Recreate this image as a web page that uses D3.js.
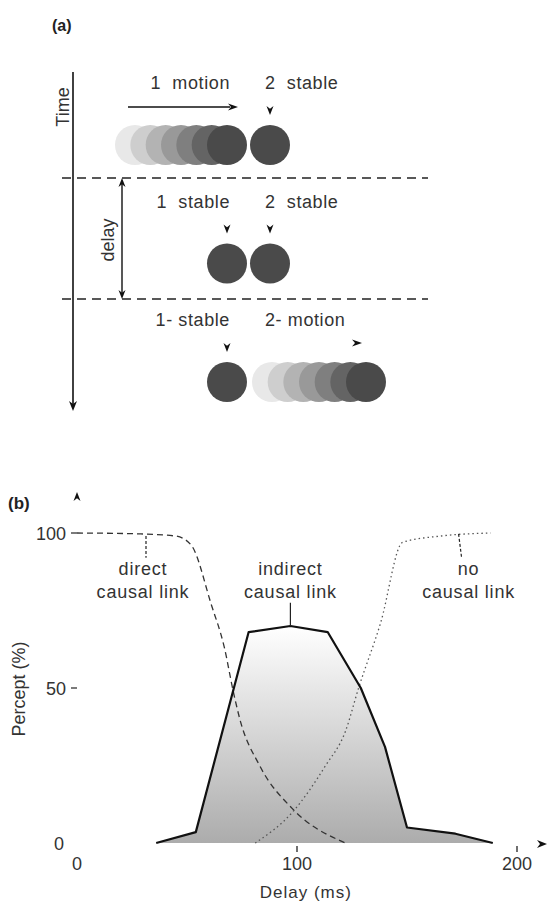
<!DOCTYPE html>
<html>
<head>
<meta charset="utf-8">
<style>
  body { margin: 0; background: #fff; }
  svg text { font-family: "Liberation Sans", Arial, sans-serif; fill: #333; white-space: pre; }
</style>
</head>
<body>
<svg width="549" height="901"></svg>
<script src="https://cdn.jsdelivr.net/npm/d3@7"></script>
<script>

// ---- panel (a): the three stimulus rows ----
var rowLabels1 = ["1  motion", "1  stable", "1- stable"];
var rowLabels2 = ["2  stable", "2  stable", "2- motion"];
var object1State = ["motion", "stable", "stable"];
var object2State = ["stable", "stable", "motion"];
var motionFrames = [0, 1, 2, 3, 4, 5, 6];

// ---- panel (b): percept vs delay ----
var delayTicks = [0, 100, 200];
var percentTicks = [0, 50, 100];

var indirectDelay = [36, 54, 78, 97, 114, 129, 140, 150, 172, 189];
var indirectPct   = [0, 3.5, 68, 70, 68, 50, 31, 5, 3, 0];

var directDelay = [0, 29, 45, 52, 61, 67, 71, 74, 83, 98, 122];
var directPct   = [100, 99.7, 99, 96, 77, 63, 49, 40, 25, 11, 0];

var noLinkDelay = [81, 98, 113, 122, 128, 138, 148, 165, 188];
var noLinkPct   = [0, 10, 25, 36, 50, 71, 97, 99, 100];

var svg = d3.select("svg");

// arrow head with a notch, tip at (x,y), pointing along angle (deg)
function arrowHead(x, y, angle, len, half) {
  var p = d3.path();
  p.moveTo(0, 0);
  p.lineTo(-len, -half);
  p.lineTo(-len * 0.7, 0);
  p.lineTo(-len, half);
  p.closePath();
  return svg.append("path")
    .attr("d", p.toString())
    .attr("fill", "#111")
    .attr("transform", "translate(" + x + "," + y + ") rotate(" + angle + ")");
}

// ================= panel (a) =================
var rowY = d3.scalePoint().domain([0, 1, 2]).range([145, 382]);
var stableX = [227, 270];
var r = 20;
var motionX1 = d3.scaleLinear().domain([0, 6]).range([135, 227]);
var motionX2 = d3.scaleLinear().domain([0, 6]).range([272, 366]);
var frameColor = d3.scaleLinear().domain([0, 6]).range(["#e8e8e8", "#4a4a4a"]);

svg.append("text").attr("x", 52).attr("y", 31)
  .style("font-size", "16px").style("font-weight", "bold").style("fill", "#222")
  .text("(a)");

// time axis
svg.append("line").attr("x1", 73).attr("x2", 73).attr("y1", 72).attr("y2", 404)
  .attr("stroke", "#111").attr("stroke-width", 1.6);
arrowHead(73, 411, 90, 10, 4);
svg.append("text").attr("transform", "translate(68.5,107) rotate(-90)")
  .attr("text-anchor", "middle").style("font-size", "18px").text("Time");

// separators between the rows
var sepY = [178, 299];
svg.selectAll(".sep").data(sepY).enter().append("line")
  .attr("class", "sep")
  .attr("x1", 62).attr("x2", 428)
  .attr("y1", function(d) { return d; }).attr("y2", function(d) { return d; })
  .attr("stroke", "#222").attr("stroke-width", 1.5)
  .attr("stroke-dasharray", "9,6");

// delay double arrow
svg.append("line").attr("x1", 122).attr("x2", 122).attr("y1", sepY[0] + 6).attr("y2", sepY[1] - 6)
  .attr("stroke", "#111").attr("stroke-width", 1.4);
arrowHead(122, sepY[0], -90, 9, 3.5);
arrowHead(122, sepY[1], 90, 9, 3.5);
svg.append("text").attr("transform", "translate(114,240) rotate(-90)")
  .attr("text-anchor", "middle").style("font-size", "18px").text("delay");

rowLabels1.forEach(function(lab, i) {
  var cy = rowY(i);
  svg.append("text").attr("x", stableX[0] + 3).attr("y", cy - 56)
    .attr("text-anchor", "end").style("font-size", "18px").style("letter-spacing", "0.6px")
    .text(lab);
  svg.append("text").attr("x", stableX[1] - 5).attr("y", cy - 56)
    .style("font-size", "18px").style("letter-spacing", "0.6px")
    .text(rowLabels2[i]);

  // object 1
  if (object1State[i] === "motion") {
    svg.selectAll(".m1-" + i).data(motionFrames).enter().append("circle")
      .attr("cx", function(f) { return motionX1(f); }).attr("cy", cy).attr("r", r)
      .attr("fill", function(f) { return frameColor(f); });
    svg.append("line").attr("x1", 128).attr("x2", 230).attr("y1", cy - 38).attr("y2", cy - 38)
      .attr("stroke", "#111").attr("stroke-width", 1.5);
    arrowHead(238, cy - 38, 0, 10, 3.5);
  } else {
    svg.append("circle").attr("cx", stableX[0]).attr("cy", cy).attr("r", r).attr("fill", "#4a4a4a");
    arrowHead(stableX[0], cy - 30, 90, 9, 3.5);
  }

  // object 2
  if (object2State[i] === "motion") {
    svg.selectAll(".m2-" + i).data(motionFrames).enter().append("circle")
      .attr("cx", function(f) { return motionX2(f); }).attr("cy", cy).attr("r", r)
      .attr("fill", function(f) { return frameColor(f); });
    arrowHead(362, cy - 39, 0, 10, 3.5);
  } else {
    svg.append("circle").attr("cx", stableX[1]).attr("cy", cy).attr("r", r).attr("fill", "#4a4a4a");
    arrowHead(stableX[1], cy - 30, 90, 9, 3.5);
  }
});

// ================= panel (b) =================
var x = d3.scaleLinear().domain([0, 200]).range([77, 517]);
var y = d3.scaleLinear().domain([0, 100]).range([843, 533]);

svg.append("text").attr("x", 8).attr("y", 509)
  .style("font-size", "17px").style("font-weight", "bold").style("fill", "#222")
  .text("(b)");

var defs = svg.append("defs");
var grad = defs.append("linearGradient").attr("id", "fillGrad")
  .attr("gradientUnits", "userSpaceOnUse")
  .attr("x1", 0).attr("x2", 0).attr("y1", y(70)).attr("y2", y(0));
grad.append("stop").attr("offset", "0%").attr("stop-color", "#ffffff");
grad.append("stop").attr("offset", "100%").attr("stop-color", "#acacac");

var indirect = indirectDelay.map(function(d, i) { return [d, indirectPct[i]]; });
var direct = directDelay.map(function(d, i) { return [d, directPct[i]]; });
var noLink = noLinkDelay.map(function(d, i) { return [d, noLinkPct[i]]; });

svg.append("path").datum(indirect)
  .attr("d", d3.area().x(function(d) { return x(d[0]); }).y0(y(0)).y1(function(d) { return y(d[1]); }))
  .attr("fill", "url(#fillGrad)");

var smoothLine = d3.line().curve(d3.curveMonotoneX)
  .x(function(d) { return x(d[0]); }).y(function(d) { return y(d[1]); });

svg.append("path").datum(direct).attr("d", smoothLine)
  .attr("fill", "none").attr("stroke", "#333").attr("stroke-width", 1.3)
  .attr("stroke-dasharray", "6,4");

svg.append("path").datum(noLink).attr("d", smoothLine)
  .attr("fill", "none").attr("stroke", "#555").attr("stroke-width", 1.3)
  .attr("stroke-dasharray", "1.5,3");

svg.append("path").datum(indirect)
  .attr("d", d3.line().x(function(d) { return x(d[0]); }).y(function(d) { return y(d[1]); }))
  .attr("fill", "none").attr("stroke", "#111").attr("stroke-width", 2.2)
  .attr("stroke-linejoin", "round");

// axes: only the arrow heads, ticks and labels survive in the figure
arrowHead(x(0), 492, -90, 9, 3.5);
arrowHead(547, y(0) + 1, 0, 10, 4);

svg.selectAll(".ytick").data(percentTicks).enter().append("text")
  .attr("class", "ytick")
  .attr("x", function(d) { return d === 0 ? 64 : 66; })
  .attr("y", function(d) { return y(d) + 6.5; })
  .attr("text-anchor", "end").style("font-size", "18px")
  .text(function(d) { return d; });
svg.selectAll(".ytm").data(percentTicks.filter(function(d) { return d > 0; })).enter().append("line")
  .attr("class", "ytm")
  .attr("x1", 71).attr("x2", 77)
  .attr("y1", function(d) { return y(d); }).attr("y2", function(d) { return y(d); })
  .attr("stroke", "#222").attr("stroke-width", 1.2);

svg.selectAll(".xtick").data(delayTicks).enter().append("text")
  .attr("class", "xtick")
  .attr("x", function(d) { return x(d); })
  .attr("y", y(0) + 26.5)
  .attr("text-anchor", "middle").style("font-size", "18px")
  .text(function(d) { return d; });
svg.selectAll(".xtm").data(delayTicks.filter(function(d) { return d > 0; })).enter().append("line")
  .attr("class", "xtm")
  .attr("x1", function(d) { return x(d); }).attr("x2", function(d) { return x(d); })
  .attr("y1", y(0) + 3).attr("y2", y(0) + 9)
  .attr("stroke", "#222").attr("stroke-width", 1.3);

svg.append("text").attr("transform", "translate(25,689) rotate(-90)")
  .attr("text-anchor", "middle").style("font-size", "18px").text("Percept (%)");
svg.append("text").attr("x", x(104)).attr("y", 898)
  .attr("text-anchor", "middle").style("font-size", "17px").style("letter-spacing", "1px")
  .text("Delay (ms)");

// curve labels with leaders
var curveLabels = [
  { top: "direct", delay: 30, leaderTop: 99, dash: "3,2", slant: 0 },
  { top: "indirect", delay: 97, leaderTop: 70, dash: null, slant: 0 },
  { top: "no", delay: 178, leaderTop: 99.7, dash: "3,2", slant: 3 }
];
curveLabels.forEach(function(c) {
  var cx = x(c.delay);
  svg.append("text").attr("x", cx).attr("y", y(88.4) + 6.5)
    .attr("text-anchor", "middle").style("font-size", "18px").style("letter-spacing", "0.8px")
    .text(c.top);
  svg.append("text").attr("x", cx).attr("y", y(81) + 6.5)
    .attr("text-anchor", "middle").style("font-size", "18px").style("letter-spacing", "0.8px")
    .text("causal link");
  var lx = c.delay === 97 ? cx : cx + (c.delay === 30 ? 3 : -10);
  svg.append("line")
    .attr("x1", lx).attr("x2", lx + c.slant)
    .attr("y1", y(c.leaderTop)).attr("y2", c.delay === 97 ? y(77.5) : y(92))
    .attr("stroke", "#222").attr("stroke-width", 1.2)
    .attr("stroke-dasharray", c.dash);
});
</script>
</body>
</html>
